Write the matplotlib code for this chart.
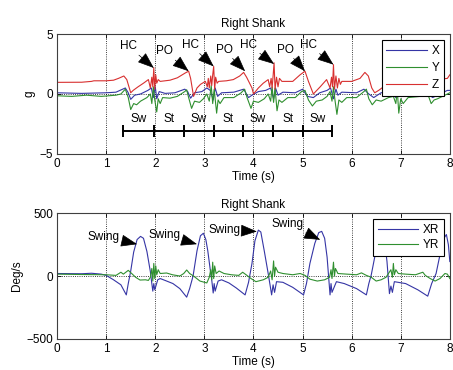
import numpy as np
import matplotlib
matplotlib.use("Agg")
import matplotlib.pyplot as plt

plt.rcParams['font.family'] = ['Liberation Sans', 'DejaVu Sans']
plt.rcParams['font.size'] = 8.5

# ---- accelerometer (top), g ----
x_t = [0, 0.5, 1.0, 1.2, 1.39, 1.45, 1.5, 1.58, 1.7, 1.85, 1.92, 1.96, 2.0, 2.03, 2.08, 2.2, 2.4, 2.6, 2.66,
       2.72, 2.8, 2.95, 3.05, 3.12, 3.18, 3.22, 3.27, 3.35, 3.6, 3.8, 3.9, 3.97, 4.1, 4.25, 4.35, 4.41, 4.45,
       4.5, 4.6, 4.85, 5.0, 5.1, 5.22, 5.35, 5.5, 5.57, 5.63, 5.68, 5.72, 5.8, 6.1, 6.25, 6.35, 6.45, 6.6,
       6.8, 6.9, 7.0, 7.3, 7.5, 7.65, 7.8, 7.95, 8.0]
x_g = [0.1, 0.05, 0.1, 0.15, 0.5, 0.1, -0.45, -0.1, 0.0, 0.3, 0.5, -0.3, 0.6, -0.4, 0.2, 0.05, 0.1, 0.4, 0.2,
       -0.35, 0.1, 0.2, 0.5, 0.3, -0.5, 0.5, -0.2, 0.1, 0.15, 0.4, -0.3, -0.1, 0.2, 0.3, 0.5, -0.4, 0.5,
       -0.1, 0.15, 0.1, 0.4, -0.2, -0.3, 0.1, 0.3, 0.5, -0.4, 0.4, -0.1, 0.15, 0.1, 0.4, 0.0, -0.3, 0.1,
       0.2, -0.3, 0.2, 0.1, 0.2, -0.3, 0.0, 0.3, 0.3]

y_t = [0, 0.3, 0.6, 0.9, 1.2, 1.3, 1.39, 1.45, 1.5, 1.56, 1.62, 1.7, 1.83, 1.9, 1.93, 1.96, 1.99, 2.03, 2.06,
       2.1, 2.15, 2.3, 2.45, 2.6, 2.64, 2.68, 2.74, 2.8, 2.9, 2.98, 3.05, 3.1, 3.14, 3.17, 3.2, 3.25, 3.28,
       3.32, 3.4, 3.6, 3.75, 3.82, 3.87, 3.95, 4.0, 4.1, 4.22, 4.3, 4.35, 4.38, 4.41, 4.44, 4.48, 4.52, 4.58,
       4.7, 4.85, 4.98, 5.05, 5.12, 5.2, 5.28, 5.4, 5.5, 5.56, 5.6, 5.63, 5.66, 5.7, 5.74, 5.8, 5.9, 6.1,
       6.25, 6.3, 6.35, 6.42, 6.5, 6.6, 6.75, 6.85, 6.9, 6.93, 6.96, 7.0, 7.05, 7.15, 7.4, 7.55, 7.62, 7.68,
       7.75, 7.85, 7.95, 8.0]
y_g = [-0.15, -0.2, -0.1, -0.2, -0.1, 0.0, 0.4, -0.3, -1.3, -0.8, -0.9, -0.6, -0.3, 0.0, -0.8, 0.6, -0.5, -1.5, -0.4,
       -0.8, -0.3, -0.35, -0.2, 0.2, 0.35, -0.3, -1.2, -0.6, -0.7, -0.4, 0.0, -0.6, 0.7, -0.8, 0.4, -1.6, -0.5,
       -0.8, -0.3, -0.3, 0.1, 0.4, -0.3, -1.2, -0.6, -0.7, -0.4, 0.0, -0.6, 0.6, -0.7, 0.5, -1.4, -0.5, -0.7,
       -0.3, -0.3, 0.2, 0.3, -0.5, -1.0, -0.6, -0.5, -0.2, 0.2, -0.6, 0.6, -0.5, -1.7, -0.5, -0.7, -0.3, -0.3,
       0.2, 0.4, -0.4, -0.9, -0.5, -0.6, -0.3, -0.2, -0.8, 0.3, -1.6, -0.4, -0.8, -0.3, -0.2, 0.0, -0.8, -0.5,
       -0.4, -0.2, 0.0, 0.1]

z_t = [0, 0.5, 0.7, 0.75, 1.0, 1.15, 1.25, 1.36, 1.42, 1.5, 1.55, 1.65, 1.76, 1.86, 1.9, 1.93, 1.95, 1.97, 1.99,
       2.01, 2.03, 2.06, 2.1, 2.3, 2.45, 2.61, 2.68, 2.72, 2.78, 2.85, 2.92, 3.02, 3.06, 3.08, 3.1, 3.13, 3.15,
       3.17, 3.19, 3.21, 3.23, 3.26, 3.29, 3.45, 3.59, 3.72, 3.8, 3.86, 3.97, 4.0, 4.1, 4.2, 4.3, 4.33, 4.36,
       4.38, 4.4, 4.42, 4.44, 4.47, 4.5, 4.53, 4.58, 4.8, 4.95, 5.05, 5.12, 5.22, 5.36, 5.49, 5.56, 5.59, 5.61,
       5.63, 5.65, 5.68, 5.71, 5.74, 5.77, 5.8, 6.0, 6.17, 6.27, 6.34, 6.41, 6.47, 6.55, 6.65, 6.8, 7.0, 7.5,
       7.95, 8.0]
z_g = [0.97, 0.98, 1.05, 1.1, 1.1, 1.15, 1.3, 1.5, 1.2, 0.1, 0.3, 0.6, 0.9, 1.2, 0.5, 1.4, 0.6, 2.2, 0.4,
       1.6, 0.9, 1.2, 1.05, 1.15, 1.35, 1.75, 1.9, 1.3, -0.2, 0.5, 0.8, 1.05, 0.6, 1.3, 0.5, 1.5, 0.7,
       1.6, 2.3, 0.4, 1.4, 0.9, 1.05, 1.1, 1.2, 1.5, 1.8, 1.4, 0.5, 0.0, 0.5, 0.9, 1.2, 0.6, 1.3,
       0.5, 1.5, 2.6, 0.4, 1.4, 0.6, 1.3, 1.05, 1.05, 1.6, 1.9, 1.05, 0.0, 0.6, 1.2, 0.5, 1.4, 0.6,
       2.45, 0.4, 1.5, 0.5, 1.3, 0.8, 1.05, 1.05, 1.3, 1.8, 1.5, 0.5, 0.1, 0.3, 0.6, 1.0, 1.05, 1.1,
       1.3, 1.6]

# gait events (top)
event_labels = ['HC', 'PO', 'HC', 'PO', 'HC', 'PO', 'HC']
event_text_t = [1.46, 2.19, 2.71, 3.4, 3.9, 4.66, 5.12]
event_text_g = [3.97, 3.55, 4.1, 3.7, 4.1, 3.7, 4.1]
event_tip_t = [1.97, 2.68, 3.19, 3.83, 4.42, 5.05, 5.63]
event_tip_g = [2.17, 1.9, 2.3, 1.9, 2.5, 1.9, 2.45]

phase_edges = [1.34, 1.98, 2.59, 3.19, 3.78, 4.39, 5.0, 5.61]
phase_labels = ['Sw', 'St', 'Sw', 'St', 'Sw', 'St', 'Sw']

# ---- gyroscope (bottom), deg/s ----
xr_t = [0, 0.5, 0.7, 0.9, 1.0, 1.15, 1.3, 1.41, 1.45, 1.5, 1.56, 1.63, 1.7, 1.76, 1.83, 1.9, 1.93, 1.95, 1.97,
        1.99, 2.05, 2.1, 2.2, 2.36, 2.5, 2.64, 2.7, 2.77, 2.85, 2.92, 2.98, 3.03, 3.07, 3.12, 3.15, 3.18, 3.2,
        3.22, 3.28, 3.35, 3.5, 3.65, 3.83, 3.9, 3.97, 4.03, 4.1, 4.15, 4.22, 4.3, 4.35, 4.37, 4.4, 4.43, 4.47,
        4.6, 4.8, 5.02, 5.08, 5.15, 5.25, 5.33, 5.39, 5.45, 5.5, 5.53, 5.56, 5.58, 5.6, 5.69, 5.85, 6.1, 6.3,
        6.35, 6.4, 6.47, 6.55, 6.62, 6.68, 6.72, 6.77, 6.8, 6.83, 6.87, 7.1, 7.35, 7.55, 7.63, 7.72, 7.8, 7.88,
        7.93, 7.97, 8.0]
xr_v = [20, 18, 22, 15, 5, -30, -70, -150, -60, 40, 190, 290, 315, 300, 195, 35, -60, -120, -60,
        -110, -30, -20, -35, -60, -100, -168, -100, 0, 200, 320, 340, 290, 200, 50, -30, -135, -60,
        -120, -40, -30, -55, -95, -150, -50, 100, 280, 365, 350, 200, 20, -100, -150, -70, -130, -45,
        -50, -90, -150, -60, 100, 260, 345, 355, 300, 150, 0, -150, -60, -130, -45, -60, -100, -150,
        -60, 10, 150, 320, 340, 250, 115, -140, -80, -130, -45, -60, -110, -160, -60, 20, 170, 300,
        330, 250, 115]

yr_t = [0, 0.5, 1.0, 1.2, 1.3, 1.35, 1.45, 1.52, 1.6, 1.69, 1.8, 1.86, 1.9, 1.93, 1.95, 1.97, 1.99, 2.01, 2.03,
        2.06, 2.1, 2.23, 2.35, 2.5, 2.58, 2.64, 2.7, 2.78, 2.91, 3.05, 3.1, 3.13, 3.15, 3.17, 3.19, 3.21, 3.24,
        3.3, 3.4, 3.55, 3.7, 3.78, 3.85, 3.95, 4.05, 4.2, 4.3, 4.35, 4.38, 4.41, 4.43, 4.45, 4.5, 4.6, 4.8,
        4.95, 5.05, 5.15, 5.3, 5.45, 5.55, 5.58, 5.6, 5.63, 5.65, 5.67, 5.72, 5.9, 6.1, 6.2, 6.3, 6.4, 6.5,
        6.6, 6.7, 6.8, 6.83, 6.85, 6.87, 6.9, 6.95, 7.1, 7.3, 7.45, 7.5, 7.6, 7.7, 7.8, 7.9, 7.95, 8.0]
yr_v = [15, 12, 10, 5, 30, 15, 45, 20, -10, -32, -30, -35, -10, 60, -40, 100, -20, 80, 10,
        50, 20, 24, 10, 0, 20, 48, 20, 0, -40, -55, -10, 50, -30, 110, -20, 80, 20,
        40, 20, 10, 5, 30, 10, -20, -45, -30, -10, 40, -30, 120, 0, 70, 30, 20, 10,
        20, 5, -25, -40, -30, -10, 50, -20, 110, 0, 60, 20, 15, 10, 25, 5, -10, -40,
        -30, -10, 50, -10, 100, 10, 50, 20, 15, 10, 30, 5, -20, -40, -20, 20, 15, -20]

swing_text_t = [0.95, 2.18, 3.42, 4.69]
swing_text_v = [314, 328, 367, 412]
swing_tip_t = [1.63, 2.85, 4.07, 5.36]
swing_tip_v = [253, 253, 354, 288]

c_blue = '#3535a5'
c_green = '#2f8f2f'
c_red = '#d83030'
arrow = dict(arrowstyle='-|>,head_length=0.8,head_width=0.3', color='k', lw=0.5,
             shrinkA=0, shrinkB=0, mutation_scale=13)

fig = plt.figure(figsize=(4.53, 3.70), dpi=100)
ax1 = fig.add_axes([0.126, 0.584, 0.867, 0.324])
ax2 = fig.add_axes([0.126, 0.084, 0.867, 0.340])

ax1.plot(x_t, x_g, color=c_blue, lw=0.8, label='X')
ax1.plot(y_t, y_g, color=c_green, lw=0.8, label='Y')
ax1.plot(z_t, z_g, color=c_red, lw=0.8, label='Z')

for lab, tx, ty, px, py in zip(event_labels, event_text_t, event_text_g, event_tip_t, event_tip_g):
    ax1.annotate(lab, xy=(px, py), xytext=(tx, ty), ha='center', va='center', arrowprops=arrow)

ax1.plot([phase_edges[0], phase_edges[-1]], [-3.05, -3.05], color='k', lw=1.4)
ax1.vlines(phase_edges, -3.55, -2.55, color='k', lw=1.4)
for i, lab in enumerate(phase_labels):
    ax1.text((phase_edges[i] + phase_edges[i + 1]) / 2, -2.1, lab, ha='center', va='center')

ax1.set_xlim(0, 8)
ax1.set_ylim(-5, 5)
ax1.set_xticks(range(9))
ax1.set_yticks([-5, 0, 5])
ax1.set_title('Right Shank', fontsize=8.5, pad=5)
ax1.set_xlabel('Time (s)', labelpad=1)
ax1.set_ylabel('g', labelpad=3)
ax1.legend(loc='upper right', bbox_to_anchor=(0.985, 0.95), borderaxespad=0, fancybox=False,
           edgecolor='k', framealpha=1, handlelength=3.4, labelspacing=0.45, borderpad=0.4,
           handletextpad=0.4).get_frame().set_linewidth(0.8)

ax2.plot(xr_t, xr_v, color=c_blue, lw=0.8, label='XR')
ax2.plot(yr_t, yr_v, color=c_green, lw=0.8, label='YR')
for tx, ty, px, py in zip(swing_text_t, swing_text_v, swing_tip_t, swing_tip_v):
    ax2.annotate('Swing', xy=(px, py), xytext=(tx, ty), ha='center', va='center', arrowprops=arrow)
ax2.set_xlim(0, 8)
ax2.set_ylim(-500, 500)
ax2.set_xticks(range(9))
ax2.set_yticks([-500, 0, 500])
ax2.set_title('Right Shank', fontsize=8.5, pad=4)
ax2.set_xlabel('Time (s)', labelpad=1)
ax2.set_ylabel('Deg/s', labelpad=2)
ax2.legend(loc='upper right', bbox_to_anchor=(0.985, 0.952), borderaxespad=0, fancybox=False,
           edgecolor='k', framealpha=1, handlelength=3.4, labelspacing=0.3, borderpad=0.4,
           handletextpad=0.4).get_frame().set_linewidth(0.8)

for ax in (ax1, ax2):
    ax.grid(True, linestyle=':', color='k', lw=0.6)
    ax.tick_params(direction='in', length=3, width=0.6, labelsize=8.5, pad=3, top=True, right=True)
    for s in ax.spines.values():
        s.set_color('#404040')
        s.set_linewidth(0.8)

fig.savefig('out.png', dpi=100)
